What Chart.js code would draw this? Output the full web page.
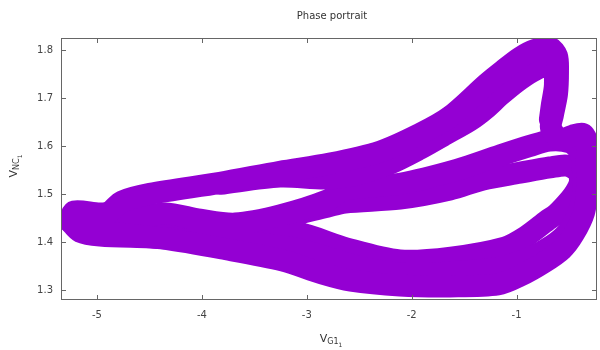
<!DOCTYPE html>
<html>
<head>
<meta charset="utf-8">
<script src="https://cdn.jsdelivr.net/npm/chart.js@4.4.0/dist/chart.umd.min.js"></script>
<style>
html, body { margin: 0; padding: 0; background: #fff; }
</style>
</head>
<body>
<canvas id="phase" width="600" height="350"></canvas>
<script>
// phase portrait V_G1 vs V_NC, trajectory (4 passes)
const passAx = [-5.257, -5.219, -4.971, -4.876, -4.762, -4.495, -3.827, -3.256, -2.779, -2.302, -1.921, -1.635, -1.282, -1.130, -0.968, -0.825, -0.682, -0.615, -0.605, -0.615, -0.653, -0.672, -0.586, -0.472, -0.367, -0.329, -0.329, -0.329, -0.357, -0.453, -0.567, -0.739, -0.958, -1.177, -1.635, -2.112, -2.579, -2.855, -3.227, -3.808, -4.380, -4.962, -5.143, -5.257];
const passAy = [1.447, 1.464, 1.460, 1.464, 1.485, 1.501, 1.524, 1.547, 1.564, 1.589, 1.626, 1.662, 1.731, 1.758, 1.785, 1.801, 1.806, 1.789, 1.756, 1.708, 1.666, 1.639, 1.614, 1.622, 1.626, 1.610, 1.572, 1.510, 1.462, 1.418, 1.385, 1.358, 1.331, 1.312, 1.308, 1.310, 1.320, 1.335, 1.362, 1.387, 1.408, 1.422, 1.426, 1.447];

const passBx = [-3.827, -3.256, -2.807, -2.493, -2.207, -1.921, -1.702, -1.444, -1.292, -1.158, -0.996, -0.853, -0.729, -0.653, -0.634, -0.663, -0.682];
const passBy = [1.522, 1.537, 1.533, 1.543, 1.564, 1.595, 1.622, 1.654, 1.679, 1.706, 1.735, 1.756, 1.768, 1.764, 1.729, 1.687, 1.656];

const passCx = [-5.257, -5.067, -4.685, -4.352, -4.018, -3.684, -3.256, -2.807, -2.636, -2.112, -1.568, -1.158, -0.872, -0.682, -0.491, -0.396, -0.367, -0.367, -0.415, -0.510, -0.663, -0.872, -1.158, -1.635, -2.112, -2.588, -3.065, -3.541, -4.018, -4.495, -4.971, -5.162, -5.257];
const passCy = [1.447, 1.441, 1.449, 1.460, 1.447, 1.439, 1.456, 1.487, 1.510, 1.522, 1.551, 1.581, 1.601, 1.612, 1.608, 1.589, 1.551, 1.499, 1.458, 1.422, 1.393, 1.368, 1.347, 1.337, 1.335, 1.354, 1.385, 1.399, 1.404, 1.410, 1.414, 1.422, 1.443];

const passDx = [-5.257, -5.067, -4.685, -4.352, -4.018, -3.684, -3.256, -2.807, -2.636, -2.112, -1.635, -1.320, -0.968, -0.682, -0.520, -0.415, -0.396, -0.434, -0.491, -0.615, -0.710, -0.910, -1.111, -1.625, -2.112, -2.617, -3.093, -3.541, -4.018, -4.495, -4.971, -5.162, -5.257];
const passDy = [1.443, 1.439, 1.447, 1.458, 1.445, 1.437, 1.451, 1.474, 1.483, 1.491, 1.510, 1.531, 1.545, 1.556, 1.560, 1.547, 1.526, 1.506, 1.489, 1.460, 1.445, 1.412, 1.389, 1.368, 1.362, 1.387, 1.420, 1.422, 1.420, 1.418, 1.422, 1.431, 1.443];

// lighter streaks inside the band (where single orbits show through)
const streak1x = [-1.921, -1.444, -1.063, -0.729, -0.491];
const streak1y = [1.339, 1.326, 1.335, 1.368, 1.422];
const streak2x = [-1.730, -1.254, -0.872, -0.586];
const streak2y = [1.360, 1.351, 1.381, 1.431];
const streak3x = [-3.065, -2.493, -1.921, -1.540];
const streak3y = [1.535, 1.551, 1.593, 1.639];
const streak4x = [-1.111, -0.920, -0.776];
const streak4y = [1.729, 1.760, 1.781];
const streak5x = [-5.114, -4.685, -4.018];
const streak5y = [1.443, 1.435, 1.426];
const streak6x = [-2.016, -1.444, -0.968];
const streak6y = [1.514, 1.539, 1.568];

const xTicks = [-5, -4, -3, -2, -1];
const yTicks = [1.3, 1.4, 1.5, 1.6, 1.7, 1.8];
const xRange = [-5.343, -0.233];
const yRange = [1.2796, 1.826];

function pts(xs, ys) {
    return xs.map((v, i) => ({x: v, y: ys[i]}));
}

const violet = '#9400d3';
function band(xs, ys) {
    return {
        data: pts(xs, ys),
        showLine: true,
        pointRadius: 0,
        borderColor: violet,
        borderWidth: 22,
        borderCapStyle: 'round',
        borderJoinStyle: 'round',
        tension: 0.3,
        fill: false,
        clip: 0
    };
}
function streak(xs, ys) {
    return {
        data: pts(xs, ys),
        showLine: true,
        pointRadius: 0,
        borderColor: 'rgba(205,140,240,0.7)',
        borderWidth: 1.2,
        borderDash: [8, 4],
        tension: 0.3,
        fill: false,
        clip: 0
    };
}

// draws "V" with a subscript and a sub-subscript, centred on 0,0
function subLabel(ctx, main, sub, sub2) {
    const f1 = '11px "DejaVu Sans"', f2 = '8px "DejaVu Sans"', f3 = '6px "DejaVu Sans"';
    ctx.font = f1; const w1 = ctx.measureText(main).width;
    ctx.font = f2; const w2 = ctx.measureText(sub).width;
    ctx.font = f3; const w3 = ctx.measureText(sub2).width;
    let x = -(w1 + w2 + w3) / 2;
    ctx.textBaseline = 'middle';
    ctx.textAlign = 'left';
    ctx.font = f1; ctx.fillText(main, x, 0); x += w1;
    ctx.font = f2; ctx.fillText(sub, x, 3); x += w2;
    ctx.font = f3; ctx.fillText(sub2, x, 6);
}

const gnuFrame = {
    id: 'gnuFrame',
    afterDraw(chart) {
        const {ctx, chartArea: a, scales} = chart;
        const sx = scales.x, sy = scales.y;
        ctx.save();
        ctx.strokeStyle = '#666';
        ctx.lineWidth = 1;
        ctx.strokeRect(a.left + 0.5, a.top + 0.5, a.right - a.left - 1, a.bottom - a.top - 1);
        ctx.beginPath();
        sx.ticks.forEach(t => {
            const p = Math.round(sx.getPixelForValue(t.value)) + 0.5;
            ctx.moveTo(p, a.bottom); ctx.lineTo(p, a.bottom - 5);
            ctx.moveTo(p, a.top); ctx.lineTo(p, a.top + 5);
        });
        sy.ticks.forEach(t => {
            const p = Math.round(sy.getPixelForValue(t.value)) + 0.5;
            ctx.moveTo(a.left, p); ctx.lineTo(a.left + 5, p);
            ctx.moveTo(a.right, p); ctx.lineTo(a.right - 5, p);
        });
        ctx.stroke();

        ctx.fillStyle = '#333';
        ctx.font = '10px "DejaVu Sans"';
        ctx.textAlign = 'center';
        ctx.textBaseline = 'middle';
        ctx.fillText('Phase portrait', 332, 16);

        ctx.translate(331, 339);
        subLabel(ctx, 'V', 'G1', '1');
        ctx.setTransform(1, 0, 0, 1, 0, 0);
        ctx.translate(14, 166);
        ctx.rotate(-Math.PI / 2);
        subLabel(ctx, 'V', 'NC', '1');
        ctx.restore();
    }
};

new Chart(document.getElementById('phase'), {
    type: 'scatter',
    data: {
        datasets: [
            band(passAx, passAy),
            band(passBx, passBy),
            band(passCx, passCy),
            band(passDx, passDy),
            streak(streak1x, streak1y),
            streak(streak2x, streak2y),
            streak(streak3x, streak3y),
            streak(streak4x, streak4y),
            streak(streak5x, streak5y),
            streak(streak6x, streak6y)
        ]
    },
    options: {
        responsive: false,
        animation: false,
        devicePixelRatio: 1,
        layout: {padding: {top: 38, right: 3, left: 0, bottom: 0}},
        plugins: {legend: {display: false}, tooltip: {enabled: false}},
        scales: {
            x: {
                type: 'linear',
                min: xRange[0], max: xRange[1],
                afterBuildTicks: s => { s.ticks = xTicks.map(v => ({value: v})); },
                afterFit: s => { s.height = 50; },
                grid: {display: false, drawTicks: false},
                border: {display: false},
                ticks: {padding: 9, color: '#444', font: {size: 10, family: 'DejaVu Sans'}, callback: v => String(v)}
            },
            y: {
                type: 'linear',
                min: yRange[0], max: yRange[1],
                afterBuildTicks: s => { s.ticks = yTicks.map(v => ({value: v})); },
                afterFit: s => { s.width = 61; },
                grid: {display: false, drawTicks: false},
                border: {display: false},
                ticks: {padding: 8, color: '#444', font: {size: 10, family: 'DejaVu Sans'}, callback: v => v.toFixed(1)}
            }
        }
    },
    plugins: [gnuFrame]
});
</script>
</body>
</html>
